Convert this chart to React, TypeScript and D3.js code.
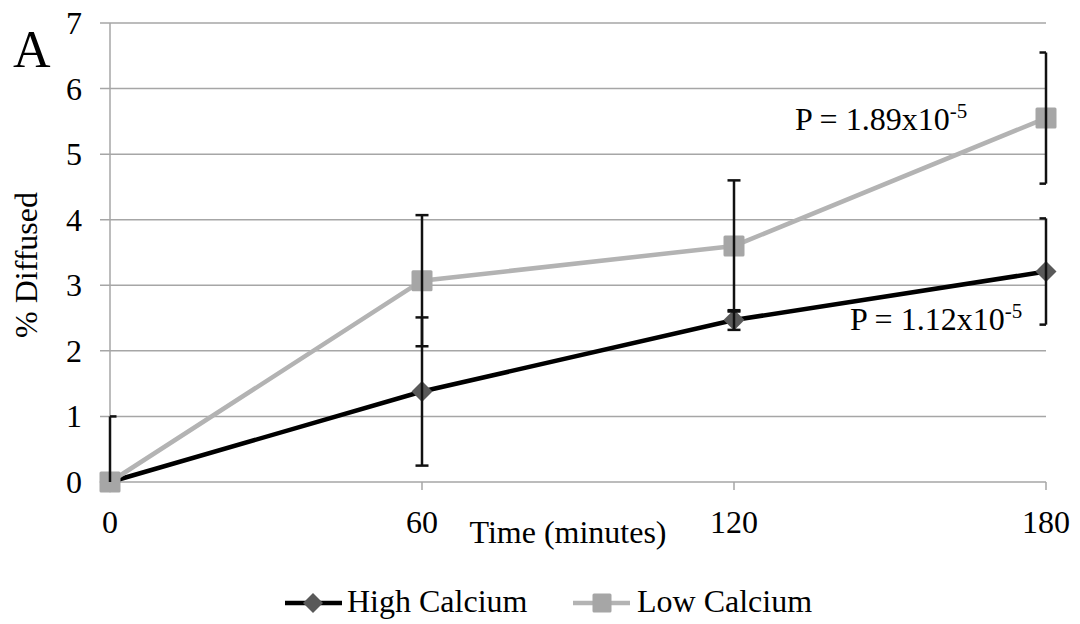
import React from "react";
import * as d3 from "d3";

const times = [0, 60, 120, 180];
const highCalcium = [0, 1.38, 2.47, 3.21];
const highErr = [1.0, 1.13, 0.15, 0.81];
const lowCalcium = [0, 3.07, 3.6, 5.55];
const lowErr = [1.0, 1.0, 1.0, 1.0];
const yTicks = [0, 1, 2, 3, 4, 5, 6, 7];
const xTicks = [0, 60, 120, 180];
const seriesNames = ["High Calcium", "Low Calcium"];

const W = 1080;
const H = 624;
const FONT = "'Liberation Serif', 'Times New Roman', serif";

export default function App() {
  const x = d3.scaleLinear().domain([0, 180]).range([110, 1046]);
  const y = d3.scaleLinear().domain([0, 7]).range([482, 23]);
  const line = d3
    .line<[number, number]>()
    .x((d) => x(d[0]))
    .y((d) => y(d[1]));
  const highPts = times.map((t, i) => [t, highCalcium[i]] as [number, number]);
  const lowPts = times.map((t, i) => [t, lowCalcium[i]] as [number, number]);
  const gridColor = "#a6a6a6";
  const capHalf = 6.5;
  const [x0, x1] = x.range();
  const clampX = (v: number) => Math.max(x0, Math.min(x1, v));

  const errBars = (vals: number[], errs: number[], key: string) =>
    times.map((t, i) => {
      const cx = x(t);
      const lo = Math.max(0, vals[i] - errs[i]);
      const hi = vals[i] + errs[i];
      const caps = [hi];
      if (vals[i] - errs[i] >= 0) caps.push(lo);
      return (
        <g key={key + i} stroke="#111" strokeWidth={2.5}>
          <line x1={cx} x2={cx} y1={y(lo)} y2={y(hi)} />
          {caps.map((c, j) => (
            <line
              key={j}
              x1={clampX(cx - capHalf)}
              x2={clampX(cx + capHalf)}
              y1={y(c)}
              y2={y(c)}
            />
          ))}
        </g>
      );
    });

  const diamond = (cx: number, cy: number, r: number, k: string) => (
    <path
      key={k}
      d={`M${cx},${cy - r}L${cx + r},${cy}L${cx},${cy + r}L${cx - r},${cy}Z`}
      fill="#595959"
    />
  );
  const square = (cx: number, cy: number, s: number, k: string) => (
    <rect key={k} x={cx - s / 2} y={cy - s / 2} width={s} height={s} rx={1.5} fill="#a6a6a6" />
  );

  return (
    <svg
      width={W}
      height={H}
      style={{ position: "absolute", left: 0, top: 0, background: "#fff" }}
      fontFamily={FONT}
    >
      <rect width={W} height={H} fill="#fff" />
      {yTicks.map((t) => (
        <line key={t} x1={100} x2={x1} y1={y(t)} y2={y(t)} stroke={gridColor} strokeWidth={1.5} />
      ))}
      <line x1={x0} x2={x0} y1={y(7)} y2={y(0)} stroke={gridColor} strokeWidth={1.5} />
      {xTicks.map((t) => (
        <line key={t} x1={x(t)} x2={x(t)} y1={y(0)} y2={y(0) + 8} stroke={gridColor} strokeWidth={1.5} />
      ))}
      {yTicks.map((t) => (
        <text key={t} x={82} y={y(t) + 11} textAnchor="end" fontSize={32} fill="#000">
          {t}
        </text>
      ))}
      {xTicks.map((t) => (
        <text key={t} x={x(t)} y={533} textAnchor="middle" fontSize={32} fill="#000">
          {t}
        </text>
      ))}
      <text x={568} y={543} textAnchor="middle" fontSize={32} fill="#000">
        Time (minutes)
      </text>
      <text transform="translate(37,265) rotate(-90)" textAnchor="middle" fontSize={32} fill="#000">
        % Diffused
      </text>
      <text x={13} y={67} fontSize={52} fill="#000">
        A
      </text>
      <path d={line(highPts) || ""} fill="none" stroke="#000" strokeWidth={4.5} />
      {highPts.map((p, i) => diamond(x(p[0]), y(p[1]), 10.5, "d" + i))}
      <path d={line(lowPts) || ""} fill="none" stroke="#b3b3b3" strokeWidth={4.5} />
      {lowPts.map((p, i) => square(x(p[0]), y(p[1]), 21, "s" + i))}
      {errBars(highCalcium, highErr, "h")}
      {errBars(lowCalcium, lowErr, "l").slice(1)}
      <text x={795} y={130} fontSize={32} fill="#000">
        P = 1.89x10
        <tspan fontSize={21} dy={-12}>-5</tspan>
      </text>
      <text x={850} y={330} fontSize={32} fill="#000">
        P = 1.12x10
        <tspan fontSize={21} dy={-12}>-5</tspan>
      </text>
      <line x1={285} x2={342} y1={603} y2={603} stroke="#000" strokeWidth={4.5} />
      {diamond(313, 603, 10, "ld")}
      <text x={347} y={612} fontSize={32} fill="#000">
        {seriesNames[0]}
      </text>
      <line x1={573} x2={630} y1={603} y2={603} stroke="#b3b3b3" strokeWidth={4.5} />
      {square(602, 603, 19, "ls")}
      <text x={637} y={612} fontSize={32} fill="#000">
        {seriesNames[1]}
      </text>
    </svg>
  );
}
